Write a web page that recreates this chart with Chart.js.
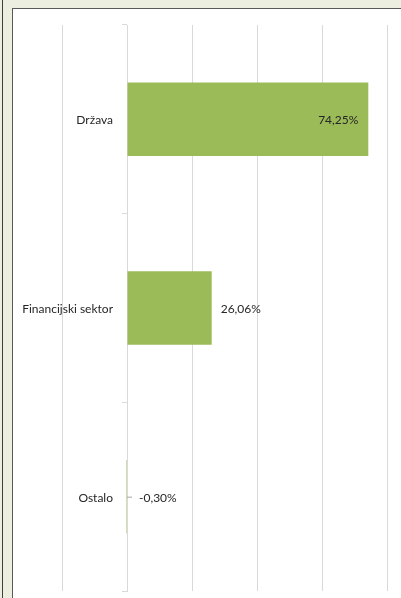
<!DOCTYPE html>
<html>
<head>
<meta charset="utf-8">
<script src="https://cdn.jsdelivr.net/npm/chart.js@4/dist/chart.umd.min.js"></script>
<style>
  html, body { margin: 0; padding: 0; }
  body { width: 401px; height: 598px; background: #ECEFE0; position: relative; overflow: hidden; }
  #edge { position: absolute; left: 2px; top: 0; width: 1px; height: 598px; background: #404040; }
  #panel { position: absolute; left: 12px; top: 8px; width: 400px; height: 600px; background: #fff;
           border-left: 1px solid #595959; border-top: 1px solid #595959; }
  #wrap { position: absolute; left: 13px; top: 9px; width: 388px; height: 589px; }
</style>
</head>
<body>
<div id="edge"></div>
<div id="panel"></div>
<div id="wrap"><canvas id="myChart"></canvas></div>
<script>
// chart data
var categories = ['Država', 'Financijski sektor', 'Ostalo'];
var values = [74.25, 26.06, -0.30];
var axisMin = -20;
var axisMax = 80;
var axisStep = 20;

var labelFont = '12px Lato';
var textColor = '#262626';

function fmt(v) {
    return v.toFixed(2).replace('.', ',') + '%';
}

// category names next to the zero axis + value labels, placed like the excel ones
var chartLabels = {
    id: 'chartLabels',
    afterDatasetsDraw: function (chart) {
        var ctx = chart.ctx;
        var meta = chart.getDatasetMeta(0);
        var yScale = chart.scales.y;
        var x0 = chart.scales.x.getPixelForValue(0);
        ctx.save();
        ctx.font = labelFont;
        ctx.fillStyle = textColor;
        ctx.textBaseline = 'middle';

        // category labels
        ctx.textAlign = 'right';
        categories.forEach(function (c, i) {
            ctx.fillText(c, x0 - 14, yScale.getPixelForTick(i) + 1);
        });

        meta.data.forEach(function (bar, i) {
            var v = values[i];
            var w = Math.abs(bar.x - x0);
            if (v >= 0 && w > 120) {
                ctx.textAlign = 'right';
                ctx.fillText(fmt(v), bar.x - 10, bar.y + 1);
            } else if (v >= 0) {
                ctx.textAlign = 'left';
                ctx.fillText(fmt(v), bar.x + 9, bar.y + 1);
            } else {
                // short leader line for the tiny negative bar
                ctx.strokeStyle = '#A6A6A6';
                ctx.lineWidth = 1;
                ctx.beginPath();
                ctx.moveTo(x0, bar.y + 0.5);
                ctx.lineTo(x0 + 5, bar.y + 0.5);
                ctx.stroke();
                ctx.textAlign = 'left';
                ctx.fillText(fmt(v), x0 + 12, bar.y + 1);
            }
        });
        ctx.restore();
    }
};

var ctx = document.getElementById('myChart').getContext('2d');
var myChart = new Chart(ctx, {
    type: 'bar',
    data: {
        labels: categories,
        datasets: [{
            data: values,
            backgroundColor: '#9BBB59',
            borderWidth: 0,
            categoryPercentage: 1,
            barPercentage: 0.39
        }]
    },
    options: {
        indexAxis: 'y',
        responsive: true,
        maintainAspectRatio: false,
        animation: false,
        layout: { padding: { left: 49, right: 14, top: 16, bottom: 7 } },
        plugins: {
            legend: { display: false },
            tooltip: { enabled: false }
        },
        scales: {
            x: {
                min: axisMin,
                max: axisMax,
                ticks: { display: false, stepSize: axisStep, padding: 0 },
                grid: { color: '#D9D9D9', drawTicks: false },
                border: { display: false }
            },
            y: {
                position: { x: 0 },
                z: 1,
                grid: { drawOnChartArea: false, drawTicks: true, tickLength: 5, color: '#D9D9D9', offset: true },
                border: { color: '#D9D9D9' },
                ticks: { display: false }
            }
        }
    },
    plugins: [chartLabels]
});
</script>
</body>
</html>
